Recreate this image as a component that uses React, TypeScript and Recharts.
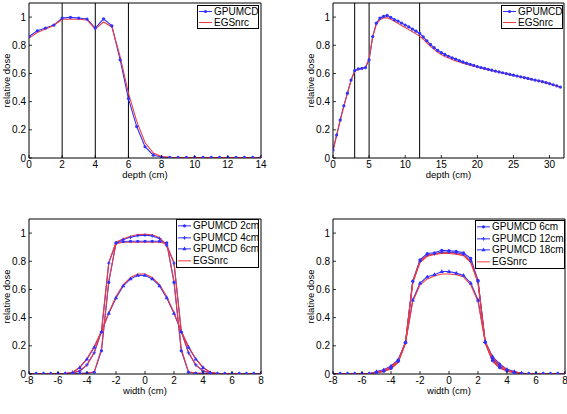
import React from 'react';
import { LineChart, Line, XAxis, YAxis, ReferenceLine, Legend } from 'recharts';

const FONT = '"Liberation Sans", Arial, Helvetica, sans-serif';
const BLUE = '#3030ff';
const RED = '#f03c3c';
const TICK_GAP = 3;
const TICK_LEN = 3;
const LABEL_SIZE = 9.5;

// ---------- Panel A: depth dose, slab phantom ----------
const depthA = [0, 0.5, 1, 1.5, 2, 2.5, 3, 3.5, 4, 4.5, 5, 5.5, 6, 6.5, 7, 7.5, 8, 8.5, 9, 9.5, 10, 10.5, 11, 11.5, 12, 12.5, 13, 13.5, 14];
const gpuA = [0.862, 0.903, 0.922, 0.943, 0.993, 0.998, 0.993, 0.986, 0.922, 0.988, 0.938, 0.697, 0.422, 0.223, 0.08, 0.02, 0.007, 0.004, 0.004, 0.004, 0.004, 0.004, 0.004, 0.004, 0.004, 0.004, 0.004, 0.004, 0.004];
const egsA = [0.851, 0.89, 0.915, 0.94, 0.985, 0.985, 0.985, 0.98, 0.915, 0.965, 0.93, 0.72, 0.46, 0.26, 0.11, 0.035, 0.01, 0.005, 0.004, 0.004, 0.004, 0.004, 0.004, 0.004, 0.004, 0.004, 0.004, 0.004, 0.004];
const slabA = [2, 4, 6];
const xTicksA = [0, 2, 4, 6, 8, 10, 12, 14];

// ---------- Panel B: depth dose, deep phantom ----------
const depthB = [0, 0.5, 1, 1.5, 2, 2.5, 3, 3.5, 4, 4.5, 5, 5.5, 6, 6.5, 7, 7.5, 8, 8.5, 9, 9.5, 10, 10.5, 11, 11.5, 12, 12.5, 13, 13.5, 14, 14.5, 15, 15.5, 16, 16.5, 17, 17.5, 18, 18.5, 19, 19.5, 20, 20.5, 21, 21.5, 22, 22.5, 23, 23.5, 24, 24.5, 25, 25.5, 26, 26.5, 27, 27.5, 28, 28.5, 29, 29.5, 30, 30.5, 31, 31.5];
const gpuB = [0.057, 0.163, 0.27, 0.37, 0.46, 0.553, 0.62, 0.632, 0.636, 0.642, 0.697, 0.862, 0.957, 0.993, 1.005, 1.012, 0.998, 0.982, 0.972, 0.958, 0.944, 0.93, 0.915, 0.9, 0.884, 0.86, 0.832, 0.806, 0.783, 0.764, 0.748, 0.735, 0.722, 0.711, 0.701, 0.691, 0.682, 0.673, 0.665, 0.657, 0.649, 0.642, 0.636, 0.629, 0.623, 0.617, 0.611, 0.605, 0.599, 0.593, 0.588, 0.582, 0.576, 0.571, 0.565, 0.559, 0.553, 0.548, 0.542, 0.535, 0.528, 0.52, 0.512, 0.503];
const egsB = [0.05, 0.158, 0.268, 0.368, 0.458, 0.55, 0.615, 0.628, 0.634, 0.645, 0.705, 0.86, 0.948, 0.982, 0.993, 0.996, 0.985, 0.97, 0.956, 0.941, 0.926, 0.911, 0.896, 0.881, 0.865, 0.843, 0.818, 0.793, 0.771, 0.751, 0.735, 0.721, 0.709, 0.699, 0.689, 0.681, 0.673, 0.666, 0.659, 0.652, 0.645, 0.638, 0.632, 0.626, 0.62, 0.614, 0.608, 0.602, 0.597, 0.591, 0.585, 0.58, 0.574, 0.568, 0.563, 0.557, 0.551, 0.546, 0.54, 0.533, 0.526, 0.518, 0.51, 0.5];
const slabB = [3, 5, 12];
const xTicksB = [0, 5, 10, 15, 20, 25, 30];

const yTicks = [0, 0.2, 0.4, 0.6, 0.8, 1];

// ---------- Panels C & D: lateral profiles ----------
const widthX = [-8, -7.5, -7, -6.5, -6, -5.5, -5, -4.5, -4, -3.5, -3, -2.5, -2, -1.5, -1, -0.5, 0, 0.5, 1, 1.5, 2, 2.5, 3, 3.5, 4, 4.5, 5, 5.5, 6, 6.5, 7, 7.5, 8];
const xTicksW = [-8, -6, -4, -2, 0, 2, 4, 6, 8];

const gpu2cm = [0.002, 0.002, 0.002, 0.002, 0.002, 0.002, 0.003, 0.004, 0.006, 0.012, 0.165, 0.65, 0.93, 0.94, 0.942, 0.942, 0.942, 0.942, 0.942, 0.93, 0.65, 0.165, 0.012, 0.006, 0.004, 0.003, 0.002, 0.002, 0.002, 0.002, 0.002, 0.002, 0.002];
const gpu4cm = [0.002, 0.002, 0.002, 0.002, 0.002, 0.002, 0.008, 0.02, 0.065, 0.15, 0.3, 0.787, 0.93, 0.955, 0.97, 0.982, 0.985, 0.98, 0.962, 0.91, 0.787, 0.3, 0.15, 0.065, 0.02, 0.008, 0.002, 0.002, 0.002, 0.002, 0.002, 0.002, 0.002];
const gpu6cm = [0.002, 0.002, 0.002, 0.002, 0.002, 0.003, 0.01, 0.045, 0.105, 0.19, 0.3, 0.43, 0.54, 0.625, 0.675, 0.7, 0.7, 0.675, 0.625, 0.54, 0.43, 0.3, 0.19, 0.105, 0.045, 0.01, 0.004, 0.002, 0.002, 0.002, 0.002, 0.002, 0.002];
const egs2cm = [0.002, 0.002, 0.002, 0.002, 0.002, 0.002, 0.003, 0.004, 0.006, 0.015, 0.18, 0.66, 0.925, 0.935, 0.935, 0.935, 0.935, 0.935, 0.935, 0.925, 0.66, 0.18, 0.015, 0.006, 0.004, 0.003, 0.002, 0.002, 0.002, 0.002, 0.002, 0.002, 0.002];
const egs4cm = [0.002, 0.002, 0.002, 0.002, 0.002, 0.002, 0.009, 0.024, 0.065, 0.155, 0.31, 0.79, 0.935, 0.96, 0.978, 0.99, 0.992, 0.988, 0.968, 0.915, 0.79, 0.31, 0.155, 0.065, 0.024, 0.009, 0.002, 0.002, 0.002, 0.002, 0.002, 0.002, 0.002];
const egs6cm = [0.002, 0.002, 0.002, 0.002, 0.002, 0.004, 0.012, 0.048, 0.11, 0.195, 0.305, 0.435, 0.55, 0.635, 0.685, 0.71, 0.71, 0.685, 0.635, 0.55, 0.435, 0.305, 0.195, 0.11, 0.048, 0.012, 0.004, 0.002, 0.002, 0.002, 0.002, 0.002, 0.002];

const gpu6cmD = [0.002, 0.002, 0.002, 0.002, 0.002, 0.002, 0.01, 0.02, 0.04, 0.09, 0.225, 0.66, 0.81, 0.855, 0.86, 0.878, 0.875, 0.87, 0.86, 0.82, 0.665, 0.225, 0.095, 0.045, 0.022, 0.01, 0.005, 0.002, 0.002, 0.002, 0.002, 0.002, 0.002];
const gpu12cm = [0.002, 0.002, 0.002, 0.002, 0.002, 0.002, 0.012, 0.025, 0.05, 0.1, 0.225, 0.655, 0.8, 0.845, 0.853, 0.865, 0.865, 0.86, 0.85, 0.8, 0.655, 0.225, 0.11, 0.055, 0.028, 0.013, 0.006, 0.002, 0.002, 0.002, 0.002, 0.002, 0.002];
const gpu18cm = [0.002, 0.002, 0.002, 0.002, 0.002, 0.002, 0.017, 0.03, 0.057, 0.1, 0.225, 0.525, 0.645, 0.69, 0.705, 0.727, 0.727, 0.716, 0.7, 0.645, 0.525, 0.23, 0.123, 0.071, 0.033, 0.017, 0.005, 0.002, 0.002, 0.002, 0.002, 0.002, 0.002];
const egs6cmD = [0.002, 0.002, 0.002, 0.002, 0.002, 0.002, 0.008, 0.018, 0.036, 0.082, 0.22, 0.655, 0.8, 0.842, 0.852, 0.86, 0.86, 0.855, 0.845, 0.8, 0.655, 0.22, 0.09, 0.04, 0.02, 0.009, 0.004, 0.002, 0.002, 0.002, 0.002, 0.002, 0.002];
const egs12cm = [0.002, 0.002, 0.002, 0.002, 0.002, 0.002, 0.01, 0.022, 0.045, 0.092, 0.22, 0.645, 0.79, 0.835, 0.848, 0.855, 0.855, 0.85, 0.84, 0.79, 0.645, 0.22, 0.1, 0.05, 0.025, 0.011, 0.005, 0.002, 0.002, 0.002, 0.002, 0.002, 0.002];
const egs18cm = [0.002, 0.002, 0.002, 0.002, 0.002, 0.002, 0.014, 0.027, 0.052, 0.095, 0.22, 0.515, 0.632, 0.675, 0.695, 0.71, 0.71, 0.705, 0.69, 0.632, 0.515, 0.225, 0.118, 0.066, 0.03, 0.015, 0.005, 0.002, 0.002, 0.002, 0.002, 0.002, 0.002];

// ---------- tables ----------
const rowsA = depthA.map((x, i) => ({ x, gpu: gpuA[i], egs: egsA[i] }));
const rowsB = depthB.map((x, i) => ({ x, gpu: gpuB[i], egs: egsB[i] }));
const rowsC = widthX.map((x, i) => ({ x, g1: gpu2cm[i], g2: gpu4cm[i], g3: gpu6cm[i], e1: egs2cm[i], e2: egs4cm[i], e3: egs6cm[i] }));
const rowsD = widthX.map((x, i) => ({ x, g1: gpu6cmD[i], g2: gpu12cm[i], g3: gpu18cm[i], e1: egs6cmD[i], e2: egs12cm[i], e3: egs18cm[i] }));

type MarkerKind = 'dot' | 'plus' | 'tri' | 'none';

const drawMarker = (kind: MarkerKind, color: string, cx: number, cy: number, key?: any) => {
  if (kind === 'dot') return <circle key={key} cx={cx} cy={cy} r={1.6} fill={color} stroke="none" />;
  if (kind === 'plus')
    return <path key={key} d={`M${cx - 1.8},${cy}H${cx + 1.8}M${cx},${cy - 1.8}V${cy + 1.8}`} stroke={color} strokeWidth={0.9} fill="none" />;
  if (kind === 'tri')
    return <path key={key} d={`M${cx},${cy - 2.3}L${cx + 2.1},${cy + 1.4}L${cx - 2.1},${cy + 1.4}Z`} fill={color} stroke="none" />;
  return null;
};

const markerFn = (kind: MarkerKind, color: string) => (p: any) => {
  const { cx, cy, index } = p;
  if (cx == null || cy == null) return <g key={index} />;
  return drawMarker(kind, color, cx, cy, index) as any;
};

const BottomTick = (p: any) => {
  const { x, y, payload } = p;
  const ay = y - TICK_GAP;
  return (
    <g>
      <line x1={x} x2={x} y1={ay} y2={ay - TICK_LEN} stroke="#000" strokeWidth={0.8} />
      <text x={x} y={y} dy="0.71em" textAnchor="middle" fontSize={10} fill="#000" fontFamily={FONT}>
        {payload.value}
      </text>
    </g>
  );
};

const LeftTick = (p: any) => {
  const { x, y, payload } = p;
  const ax = x + TICK_GAP;
  return (
    <g>
      <line x1={ax} x2={ax + TICK_LEN} y1={y} y2={y} stroke="#000" strokeWidth={0.8} />
      <text x={x} y={y} dy="0.355em" textAnchor="end" fontSize={10} fill="#000" fontFamily={FONT}>
        {payload.value}
      </text>
    </g>
  );
};

type LegendItem = { label: string; color: string; marker: MarkerKind };

const makeLegend = (items: LegendItem[], rowH: number) => () => (
  <div
    style={{
      border: '1px solid #000',
      background: '#fff',
      fontFamily: FONT,
      fontSize: 10,
      color: '#000',
      boxSizing: 'border-box',
      width: '100%',
      height: '100%',
      padding: '0 0 0 1px',
    }}
  >
    {items.map((it) => (
      <div key={it.label} style={{ display: 'flex', alignItems: 'center', height: rowH, whiteSpace: 'nowrap', lineHeight: `${rowH}px` }}>
        <svg width={13} height={rowH} style={{ flex: 'none', display: 'block' }}>
          <line x1={0} x2={13} y1={rowH / 2} y2={rowH / 2} stroke={it.color} strokeWidth={1} />
          {drawMarker(it.marker, it.color, 6.5, rowH / 2)}
        </svg>
        <span style={{ marginLeft: 2 }}>{it.label}</span>
      </div>
    ))}
  </div>
);

const legendTop: LegendItem[] = [
  { label: 'GPUMCD', color: BLUE, marker: 'dot' },
  { label: 'EGSnrc', color: RED, marker: 'none' },
];
const legendC: LegendItem[] = [
  { label: 'GPUMCD 2cm', color: BLUE, marker: 'dot' },
  { label: 'GPUMCD 4cm', color: BLUE, marker: 'plus' },
  { label: 'GPUMCD 6cm', color: BLUE, marker: 'tri' },
  { label: 'EGSnrc', color: RED, marker: 'none' },
];
const legendD: LegendItem[] = [
  { label: 'GPUMCD 6cm', color: BLUE, marker: 'dot' },
  { label: 'GPUMCD 12cm', color: BLUE, marker: 'plus' },
  { label: 'GPUMCD 18cm', color: BLUE, marker: 'tri' },
  { label: 'EGSnrc', color: RED, marker: 'none' },
];

const frameAxes = (xDomain: number[], xTicks: number[], xLabel: string, yAxisWidth: number, yLabelOffset: number) => [
  <XAxis
    key="xb"
    dataKey="x"
    type="number"
    domain={xDomain}
    ticks={xTicks}
    interval={0}
    allowDataOverflow
    height={30}
    stroke="#000"
    tickLine={false}
    tickSize={0}
    tickMargin={TICK_GAP}
    tick={<BottomTick />}
    label={{ value: xLabel, position: 'insideBottom', offset: 10, fontSize: LABEL_SIZE, fill: '#000', fontFamily: FONT }}
  />,
  <XAxis
    key="xt"
    xAxisId="top"
    dataKey="x"
    orientation="top"
    mirror
    type="number"
    domain={xDomain}
    ticks={xTicks}
    interval={0}
    allowDataOverflow
    height={1}
    stroke="#000"
    tick={false}
    tickSize={TICK_LEN}
  />,
  <YAxis
    key="yl"
    type="number"
    domain={[0, 1.1]}
    ticks={yTicks}
    interval={0}
    allowDataOverflow
    width={yAxisWidth}
    stroke="#000"
    tickLine={false}
    tickSize={0}
    tickMargin={TICK_GAP}
    tick={<LeftTick />}
    label={{ value: 'relative dose', angle: -90, position: 'insideLeft', offset: yLabelOffset, fontSize: LABEL_SIZE, fill: '#000', fontFamily: FONT, style: { textAnchor: 'middle' } }}
  />,
  <YAxis
    key="yr"
    yAxisId="right"
    orientation="right"
    mirror
    type="number"
    domain={[0, 1.1]}
    ticks={yTicks}
    interval={0}
    allowDataOverflow
    width={1}
    stroke="#000"
    tick={false}
    tickSize={TICK_LEN}
  />,
];

const legendEl = (items: LegendItem[], rowH: number, left: number, top: number, w: number, h: number) => (
  <Legend
    layout="horizontal"
    verticalAlign="middle"
    align="center"
    wrapperStyle={{ left, top, width: w, height: h, margin: 0, padding: 0 }}
    content={makeLegend(items, rowH)}
  />
);

const box = (left: number, top: number): React.CSSProperties => ({ position: 'absolute', left, top });

export default function App() {
  return (
    <div style={{ position: 'absolute', left: 0, top: 0, width: 567, height: 414, background: '#fff', fontFamily: FONT }}>
      {/* Panel A */}
      <div style={box(0, 0)}>
        <LineChart width={290} height={190} data={rowsA} margin={{ top: 3, right: 29, bottom: 2, left: 0 }}>
          {frameAxes([0, 14], xTicksA, 'depth (cm)', 29, 7)}
          {slabA.map((s) => (
            <ReferenceLine key={s} x={s} stroke="#000" strokeWidth={1} />
          ))}
          <Line dataKey="gpu" stroke={BLUE} strokeWidth={1.1} dot={markerFn('dot', BLUE)} isAnimationActive={false} />
          <Line dataKey="egs" stroke={RED} strokeWidth={1.1} dot={false} isAnimationActive={false} />
          {legendEl(legendTop, 11, 197, 5, 62, 24)}
        </LineChart>
      </div>

      {/* Panel B */}
      <div style={box(290, 0)}>
        <LineChart width={277} height={190} data={rowsB} margin={{ top: 3, right: 3, bottom: 2, left: 0 }}>
          {frameAxes([0, 32], xTicksB, 'depth (cm)', 43, 21)}
          {slabB.map((s) => (
            <ReferenceLine key={s} x={s} stroke="#000" strokeWidth={1} />
          ))}
          <Line dataKey="gpu" stroke={BLUE} strokeWidth={1.1} dot={markerFn('dot', BLUE)} isAnimationActive={false} />
          <Line dataKey="egs" stroke={RED} strokeWidth={1.1} dot={false} isAnimationActive={false} />
          {legendEl(legendTop, 11, 211, 5, 62, 24)}
        </LineChart>
      </div>

      {/* Panel C */}
      <div style={box(0, 210)}>
        <LineChart width={290} height={204} data={rowsC} margin={{ top: 9, right: 29, bottom: 10, left: 0 }}>
          {frameAxes([-8, 8], xTicksW, 'width (cm)', 29, 7)}
          <Line dataKey="g1" stroke={BLUE} strokeWidth={1.1} dot={markerFn('dot', BLUE)} isAnimationActive={false} />
          <Line dataKey="g2" stroke={BLUE} strokeWidth={1.1} dot={markerFn('plus', BLUE)} isAnimationActive={false} />
          <Line dataKey="g3" stroke={BLUE} strokeWidth={1.1} dot={markerFn('tri', BLUE)} isAnimationActive={false} />
          <Line dataKey="e1" stroke={RED} strokeWidth={1.1} dot={false} isAnimationActive={false} />
          <Line dataKey="e2" stroke={RED} strokeWidth={1.1} dot={false} isAnimationActive={false} />
          <Line dataKey="e3" stroke={RED} strokeWidth={1.1} dot={false} isAnimationActive={false} />
          {legendEl(legendC, 11.7, 176, 9, 83, 49)}
        </LineChart>
      </div>

      {/* Panel D */}
      <div style={box(290, 210)}>
        <LineChart width={277} height={204} data={rowsD} margin={{ top: 9, right: 2, bottom: 10, left: 0 }}>
          {frameAxes([-8, 8], xTicksW, 'width (cm)', 43, 21)}
          <Line dataKey="g1" stroke={BLUE} strokeWidth={1.1} dot={markerFn('dot', BLUE)} isAnimationActive={false} />
          <Line dataKey="g2" stroke={BLUE} strokeWidth={1.1} dot={markerFn('plus', BLUE)} isAnimationActive={false} />
          <Line dataKey="g3" stroke={BLUE} strokeWidth={1.1} dot={markerFn('tri', BLUE)} isAnimationActive={false} />
          <Line dataKey="e1" stroke={RED} strokeWidth={1.1} dot={false} isAnimationActive={false} />
          <Line dataKey="e2" stroke={RED} strokeWidth={1.1} dot={false} isAnimationActive={false} />
          <Line dataKey="e3" stroke={RED} strokeWidth={1.1} dot={false} isAnimationActive={false} />
          {legendEl(legendD, 11.7, 185, 10, 90, 49)}
        </LineChart>
      </div>
    </div>
  );
}
